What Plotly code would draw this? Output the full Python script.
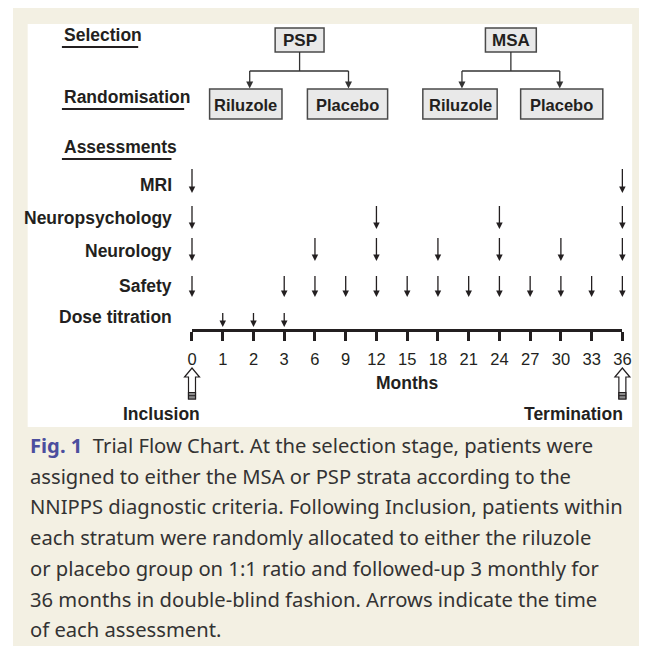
import plotly.graph_objects as go

# ---------------- data ----------------
month_ticks = [0, 1, 2, 3, 6, 9, 12, 15, 18, 21, 24, 27, 30, 33, 36]
mri_months = [0, 36]
neuropsychology_months = [0, 12, 24, 36]
neurology_months = [0, 6, 12, 18, 24, 30, 36]
safety_months = [0, 3, 6, 9, 12, 15, 18, 21, 24, 27, 30, 33, 36]
dose_titration_months = [1, 2, 3]
assessment_labels = ["MRI", "Neuropsychology", "Neurology", "Safety", "Dose titration"]
assessment_schedules = [mri_months, neuropsychology_months, neurology_months,
                        safety_months, dose_titration_months]
section_headers = ["Selection", "Randomisation", "Assessments"]
strata = ["PSP", "MSA"]
arms = ["Riluzole", "Placebo"]
milestone_labels = ["Inclusion", "Termination"]
milestone_months = [0, 36]
axis_title = "Months"
caption_lead = "Fig. 1"
caption_lines = [
    "Trial Flow Chart. At the selection stage, patients were",
    "assigned to either the MSA or PSP strata according to the",
    "NNIPPS diagnostic criteria. Following Inclusion, patients within",
    "each stratum were randomly allocated to either the riluzole",
    "or placebo group on 1:1 ratio and followed-up 3 monthly for",
    "36 months in double-blind fashion. Arrows indicate the time",
    "of each assessment.",
]

# ---------------- layout geometry (page pixels) ----------------
PAGE_W, PAGE_H = 648, 653
OFF = 8                         # default body margin of the html page
W, H = PAGE_W - OFF, PAGE_H - OFF
BEIGE = "#f3f0e3"
INK = "#231f20"
FONT = "Liberation Sans, Arial, sans-serif"
TL0, TL1 = 191, 631            # page x of first / last timeline tick
n_ticks = len(month_ticks) - 1
scale = (TL1 - TL0) / n_ticks
AXIS_Y = 330


def fx(px):
    return (px - OFF) / W


def fy(py):
    return 1 - (py - OFF) / H


fig = go.Figure()

# ---- assessment arrows (on hidden timeline axis x3) ----
row_top_y = [169, 206, 238, 276, 313]
row_tip_y = [193, 229, 261, 297, 327]
row_label_y = [185, 218, 251, 286, 317]
for label, sched, top, tip, ly in zip(assessment_labels, assessment_schedules,
                                      row_top_y, row_tip_y, row_label_y):
    xs, ys = [], []
    for m in sched:
        i = month_ticks.index(m)
        xs += [i, i, None]
        ys += [top, tip - 3, None]
    fig.add_trace(go.Scatter(x=xs, y=ys, mode="lines", xaxis="x3", yaxis="y",
                             line=dict(color=INK, width=1.3), hoverinfo="skip",
                             showlegend=False))
    fig.add_trace(go.Scatter(x=[month_ticks.index(m) for m in sched], y=[tip] * len(sched),
                             mode="markers", xaxis="x3", yaxis="y",
                             marker=dict(symbol="arrow-down", size=6.5, color=INK,
                                         line=dict(width=0)),
                             hoverinfo="skip", showlegend=False))
    fig.add_annotation(x=173, y=ly, xref="x", yref="y", text="<b>%s</b>" % label,
                       showarrow=False, xanchor="right", yanchor="middle",
                       font=dict(family=FONT, size=17.5, color=INK))

shapes = []
# background panels
shapes.append(dict(type="rect", xref="x", yref="y", x0=7, x1=650, y0=8, y1=646,
                   fillcolor=BEIGE, line=dict(width=0), layer="below"))
shapes.append(dict(type="rect", xref="x", yref="y", x0=23, x1=641, y0=24, y1=427,
                   fillcolor="white", line=dict(width=0), layer="below"))

# section headers
header_y = [35, 97, 147]
underline_end = [136, 183, 170]
for txt, hy, ue in zip(section_headers, header_y, underline_end):
    fig.add_annotation(x=58, y=hy, xref="x", yref="y", text="<b>%s</b>" % txt,
                       showarrow=False, xanchor="left", yanchor="middle",
                       font=dict(family=FONT, size=17.5, color=INK))
    shapes.append(dict(type="line", xref="x", yref="y", x0=58, x1=ue, y0=hy + 12, y1=hy + 12,
                       line=dict(color=INK, width=2.2)))

# flow chart boxes
parent_cx = [301, 517]
parent_hw = [25, 26]
child_boxes = [[(209, 283), (309, 391)], [(427, 503), (527, 611)]]
child_arrow_x = [[250, 351], [467, 567]]
BOX_FILL = "#e9e9e9"
BOX_LINE = "#4a4a4a"
head_x, head_y = [], []
for s_name, cx, hw, boxes, ax in zip(strata, parent_cx, parent_hw, child_boxes, child_arrow_x):
    shapes.append(dict(type="rect", xref="x", yref="y", x0=cx - hw, x1=cx + hw, y0=28, y1=52,
                       fillcolor=BOX_FILL, line=dict(color=BOX_LINE, width=1.5)))
    fig.add_annotation(x=cx, y=40.5, xref="x", yref="y", text="<b>%s</b>" % s_name,
                       showarrow=False, font=dict(family=FONT, size=17, color=INK))
    shapes.append(dict(type="line", xref="x", yref="y", x0=cx, x1=cx, y0=52, y1=71,
                       line=dict(color="#333", width=1.3)))
    shapes.append(dict(type="line", xref="x", yref="y", x0=ax[0], x1=ax[1], y0=71, y1=71,
                       line=dict(color="#333", width=1.3)))
    for a in ax:
        shapes.append(dict(type="line", xref="x", yref="y", x0=a, x1=a, y0=71, y1=84,
                           line=dict(color="#333", width=1.3)))
        head_x.append(a)
        head_y.append(88.5)
    for arm, (bx0, bx1) in zip(arms, boxes):
        shapes.append(dict(type="rect", xref="x", yref="y", x0=bx0, x1=bx1, y0=89, y1=119,
                           fillcolor=BOX_FILL, line=dict(color=BOX_LINE, width=1.5)))
        fig.add_annotation(x=(bx0 + bx1) / 2, y=104.5, xref="x", yref="y",
                           text="<b>%s</b>" % arm, showarrow=False,
                           font=dict(family=FONT, size=16.5, color=INK))
fig.add_trace(go.Scatter(x=head_x, y=head_y, mode="markers", xaxis="x", yaxis="y",
                         marker=dict(symbol="arrow-down", size=7, color="#333", line=dict(width=0)),
                         hoverinfo="skip", showlegend=False))

# milestone hollow arrows (Inclusion / Termination)
hollow = "M -7.5,377 L -3.5,377 L -3.5,399 L 3.5,399 L 3.5,377 L 7.5,377 L 0,368 Z"
for m in milestone_months:
    i = month_ticks.index(m)
    shapes.append(dict(type="path", xref="x3", yref="y", xsizemode="pixel", xanchor=i,
                       path=hollow, fillcolor="white", line=dict(color=INK, width=1.2)))
    shapes.append(dict(type="rect", xref="x3", yref="y", xsizemode="pixel", xanchor=i,
                       x0=-3.5, x1=3.5, y0=392.5, y1=399, fillcolor="#8a8a8a",
                       line=dict(color=INK, width=1.2)))
    shapes.append(dict(type="line", xref="x3", yref="y", xsizemode="pixel", xanchor=i,
                       x0=-3.5, x1=3.5, y0=395.7, y1=395.7, line=dict(color=INK, width=1)))

fig.add_annotation(x=160, y=414, xref="x", yref="y", text="<b>%s</b>" % milestone_labels[0],
                   showarrow=False, font=dict(family=FONT, size=17.5, color=INK))
fig.add_annotation(x=634, y=414, xref="x", yref="y", text="<b>%s</b>" % milestone_labels[1],
                   showarrow=False, xanchor="right", font=dict(family=FONT, size=17.5, color=INK))
fig.add_annotation(x=n_ticks / 2, y=383, xref="x3", yref="y", text="<b>%s</b>" % axis_title,
                   showarrow=False, font=dict(family=FONT, size=17.5, color=INK))

# caption
cap_y0, cap_dy = 445, 30.7
for k, line in enumerate(caption_lines):
    txt = line
    if k == 0:
        txt = "<b><span style='color:#4b4e9e'>%s</span></b>\u00a0\u00a0%s" % (caption_lead, line)
    fig.add_annotation(x=fx(23), y=cap_y0 + k * cap_dy, xref="paper", yref="y", text=txt,
                       showarrow=False, xanchor="left", yanchor="middle",
                       font=dict(family="Noto Sans, sans-serif", size=20.2, color="#333333"))

fig.update_layout(
    width=W, height=H, margin=dict(l=0, r=0, t=0, b=0),
    paper_bgcolor="white", plot_bgcolor="rgba(0,0,0,0)",
    shapes=shapes, showlegend=False,
    xaxis=dict(domain=[0, 1], range=[OFF, PAGE_W], visible=False, fixedrange=True),
    yaxis=dict(domain=[0, 1], range=[PAGE_H, OFF], visible=False, fixedrange=True),
    xaxis2=dict(domain=[fx(TL0), fx(TL1)], range=[0, n_ticks], anchor="free",
                position=fy(AXIS_Y), showline=True, linewidth=3, linecolor=INK,
                ticks="outside", ticklen=9, tickwidth=3, tickcolor=INK,
                ticklabelstandoff=4,
                tickvals=list(range(len(month_ticks))),
                ticktext=[str(m) for m in month_ticks],
                tickfont=dict(family=FONT, size=16.5, color=INK),
                showgrid=False, zeroline=False, fixedrange=True),
    xaxis3=dict(domain=[0, 1], range=[(OFF - TL0) / scale, (PAGE_W - TL0) / scale], anchor="y",
                visible=False, fixedrange=True),
)
# anchor trace so that the timeline axis x2 is drawn
fig.add_trace(go.Scatter(x=[0], y=[AXIS_Y], xaxis="x2", yaxis="y", mode="markers",
                         marker=dict(size=0.1, opacity=0), hoverinfo="skip", showlegend=False))

fig.write_html("out.html")
